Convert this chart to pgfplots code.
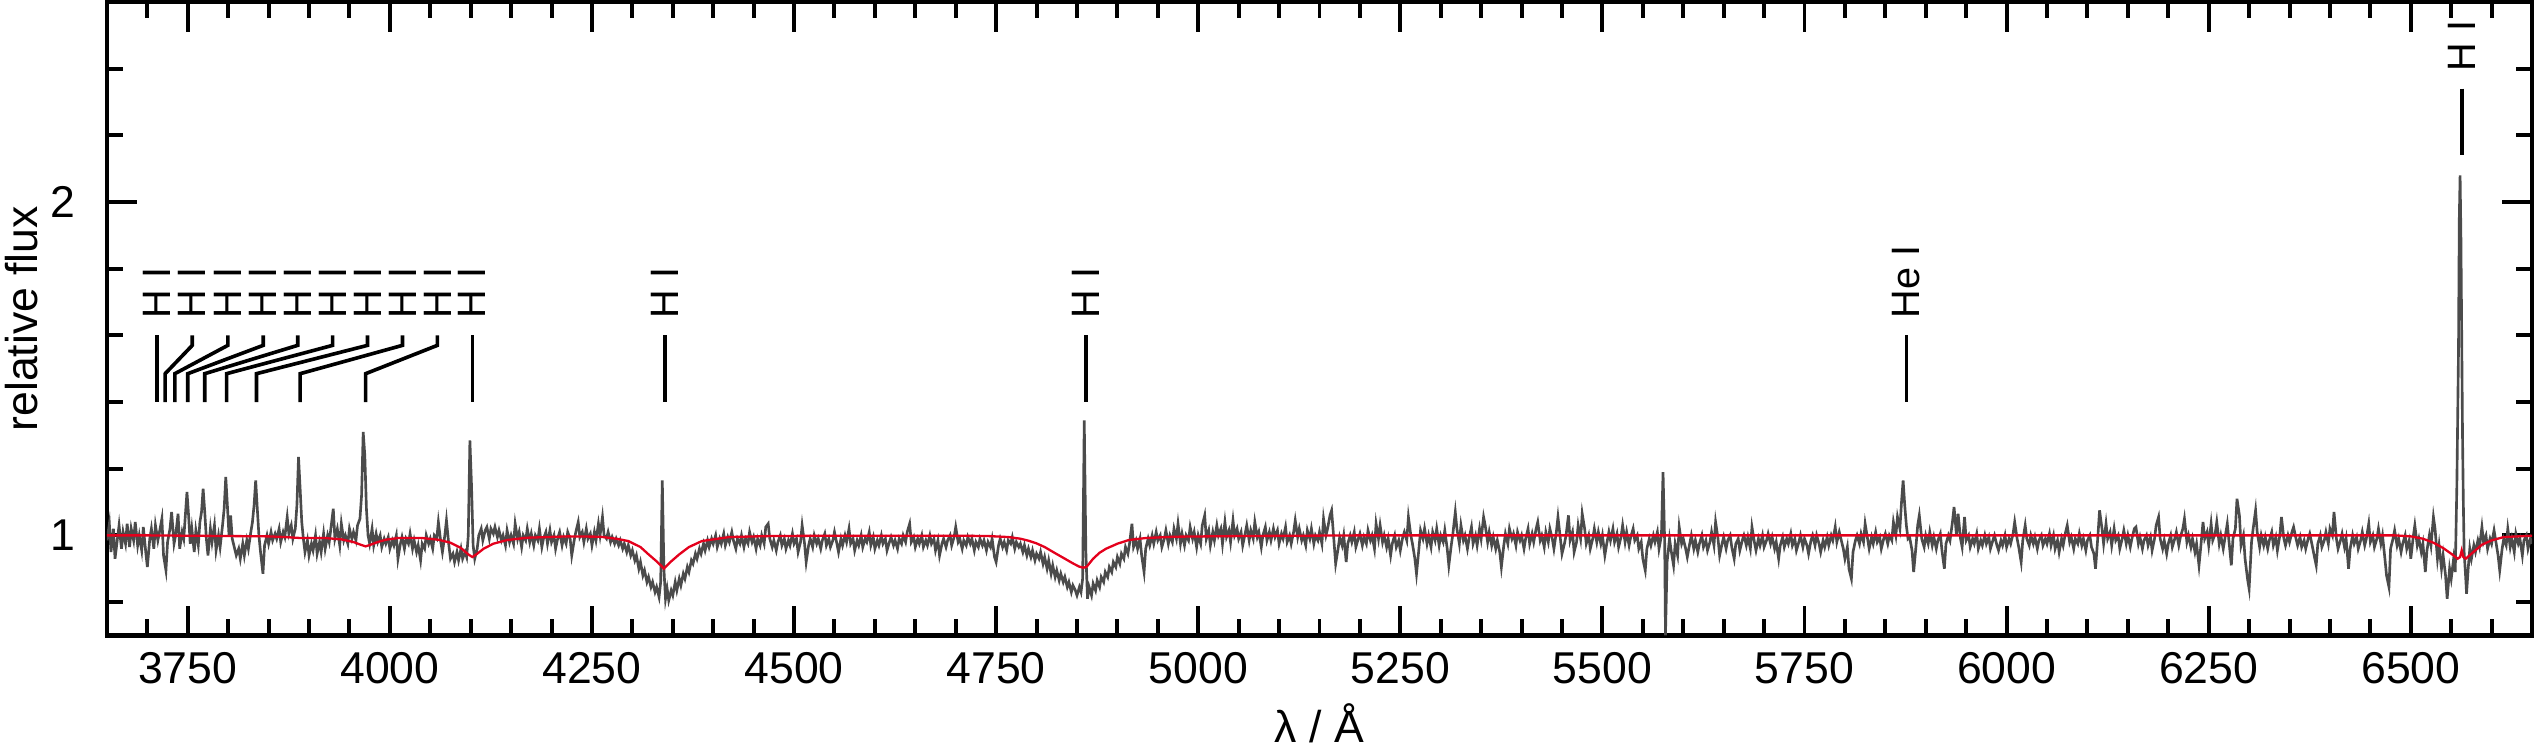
\documentclass[border=0pt]{standalone}
\usepackage{fontspec}
\setmainfont{Liberation Sans}
\usepackage{pgfplots}
\pgfplotsset{compat=1.18}
\definecolor{specgray}{RGB}{75,75,75}
\definecolor{modred}{RGB}{228,0,28}
\newcommand{\lbl}{\fontsize{12}{14}\selectfont}
\begin{document}
\begin{tikzpicture}
\begin{axis}[
  name=ax,
  scale only axis, width=734.7pt, height=191.9pt,
  xmin=3650, xmax=6650, ymin=0.7, ymax=2.6,
  xtick={3750,4000,...,6500}, minor xtick={3700,3750,...,6600},
  ytick={1,2}, minor ytick={0.8,1.2,1.4,1.6,1.8,2.2,2.4},
  tick align=inside,
  major tick length=9pt, minor tick length=5pt,
  tick style={black, line width=1.2pt},
  axis line style={line width=1.4pt},
  /pgf/number format/assume math mode=true,
  /pgf/number format/1000 sep={},
  ticklabel style={font=\fontsize{13.5}{15}\selectfont},
  xticklabel style={yshift=-1.5pt}, yticklabel style={xshift=-6pt},
  xlabel={λ / Å}, ylabel={relative flux},
  label style={font=\fontsize{13.5}{15}\selectfont},
  xlabel style={at={(axis description cs:0.5,-0.139)}, anchor=center},
  ylabel style={at={(axis description cs:-0.0354,0.5)}, anchor=center},
]
% observed spectrum
\addplot[specgray, line width=0.8pt] coordinates {
(3650,0.985)(3653,1.035)(3655,0.95)(3658,1.02)(3660,0.93)(3663,0.99)(3665,1.03)(3668,0.96)(3670,1.01)(3673,0.975)
(3675,1.035)(3678,0.965)(3680,1.02)(3683,0.985)(3685,1.04)(3688,0.97)(3690,1.0)(3693,0.955)(3695,1.025)(3698,0.95)
(3700,0.905)(3703,0.99)(3705,1.02)(3708,0.96)(3710,1.03)(3713,0.985)(3715,1.01)(3718,1.05)(3720,0.94)(3723,0.895)
(3725,0.98)(3728,1.02)(3730,1.07)(3733,0.975)(3735,1.0)(3738,1.065)(3740,0.96)(3743,1.01)(3745,0.99)(3747,1.06)
(3749,1.13)(3751,1.06)(3753,0.975)(3755,1.02)(3758,0.95)(3760,1.015)(3763,0.97)(3765,1.04)(3767,1.07)(3769,1.14)
(3771,1.07)(3773,0.99)(3775,0.94)(3778,1.02)(3780,0.98)(3783,1.03)(3785,0.955)(3788,1.0)(3790,0.965)(3793,1.03)
(3795,1.08)(3797,1.175)(3799,1.09)(3801,1.0)(3803,1.06)(3805,0.99)(3808,0.96)(3810,0.94)(3813,0.96)(3815,0.93)
(3818,0.975)(3820,0.94)(3823,0.985)(3825,0.96)(3828,1.01)(3830,1.04)(3832,1.09)(3834,1.165)(3836,1.08)(3838,1.0)
(3840,0.95)(3843,0.885)(3845,0.97)(3848,1.0)(3850,0.975)(3853,1.01)(3855,0.985)(3858,1.005)(3860,0.99)(3863,1.02)
(3865,0.98)(3868,1.01)(3870,0.995)(3873,1.055)(3875,1.005)(3878,1.03)(3880,0.99)(3883,1.02)(3885,1.09)(3887,1.235)
(3889,1.14)(3891,1.04)(3893,0.99)(3895,0.95)(3898,0.985)(3900,0.94)(3903,0.975)(3905,0.955)(3908,1.0)(3910,0.945)
(3913,0.98)(3915,0.95)(3918,1.005)(3920,0.96)(3923,1.0)(3925,0.98)(3928,1.04)(3930,1.08)(3932,0.99)(3935,1.02)
(3938,0.97)(3940,1.035)(3943,0.985)(3945,1.0)(3948,0.975)(3950,1.02)(3953,0.99)(3955,1.01)(3958,0.985)(3960,1.03)
(3963,1.05)(3965,1.12)(3967,1.31)(3969,1.24)(3971,1.08)(3973,1.0)(3975,0.975)(3978,1.02)(3980,0.97)(3983,1.005)
(3985,0.98)(3988,1.0)(3990,0.965)(3993,0.99)(3995,0.975)(3998,0.995)(4000,0.96)(4003,0.985)(4005,0.97)(4008,1.0)
(4010,0.93)(4013,0.975)(4015,0.995)(4018,0.96)(4020,0.99)(4023,0.975)(4025,1.005)(4028,0.96)(4030,0.985)(4033,0.95)
(4035,0.97)(4038,0.925)(4040,0.975)(4043,0.96)(4045,1.0)(4048,0.975)(4050,0.99)(4053,0.96)(4055,1.0)(4058,0.99)
(4060,1.04)(4063,0.98)(4065,0.95)(4068,1.0)(4070,1.045)(4073,0.97)(4075,0.93)(4078,0.945)(4080,0.92)(4083,0.95)
(4085,0.925)(4088,0.96)(4090,0.93)(4093,0.95)(4095,0.935)(4097,1.0)(4099,1.285)(4101,1.15)(4103,0.97)(4105,0.93)
(4108,0.96)(4110,1.0)(4113,1.02)(4115,0.985)(4118,1.015)(4120,1.025)(4123,0.99)(4125,1.02)(4128,1.005)(4130,1.025)
(4133,0.995)(4135,1.015)(4138,0.985)(4140,1.0)(4143,0.97)(4145,1.015)(4148,0.98)(4150,1.0)(4153,0.975)(4155,1.035)
(4158,0.99)(4160,1.01)(4163,0.965)(4165,1.0)(4168,0.985)(4170,1.02)(4173,0.98)(4175,1.005)(4178,0.97)(4180,1.0)
(4183,0.985)(4185,1.02)(4188,0.965)(4190,0.99)(4193,1.01)(4195,0.975)(4198,1.015)(4200,0.98)(4203,1.0)(4205,0.96)
(4208,0.995)(4210,1.01)(4213,0.97)(4215,0.995)(4218,0.975)(4220,1.01)(4223,0.99)(4225,0.94)(4228,0.985)(4230,1.01)
(4233,1.04)(4235,0.995)(4238,1.01)(4240,0.98)(4243,1.02)(4245,0.99)(4248,1.005)(4250,0.97)(4253,1.01)(4255,0.985)
(4258,1.035)(4260,1.0)(4263,1.055)(4265,1.0)(4268,0.99)(4270,1.01)(4273,0.98)(4275,0.995)(4278,0.975)(4280,0.99)
(4283,0.97)(4285,0.985)(4288,0.96)(4290,0.975)(4293,0.95)(4295,0.97)(4298,0.94)(4300,0.955)(4303,0.925)(4305,0.94)
(4308,0.9)(4310,0.92)(4313,0.88)(4315,0.895)(4318,0.86)(4320,0.875)(4323,0.845)(4325,0.86)(4328,0.83)(4330,0.845)
(4333,0.815)(4335,0.86)(4337,1.165)(4339,0.9)(4341,0.81)(4343,0.84)(4345,0.805)(4348,0.835)(4350,0.82)(4353,0.86)
(4355,0.835)(4358,0.87)(4360,0.85)(4363,0.885)(4365,0.87)(4368,0.905)(4370,0.89)(4373,0.925)(4375,0.915)(4378,0.945)
(4380,0.93)(4383,0.96)(4385,0.945)(4388,0.975)(4390,0.955)(4393,0.985)(4395,0.965)(4398,0.99)(4400,0.975)(4403,1.0)
(4405,0.965)(4408,0.99)(4410,0.975)(4413,1.005)(4415,0.97)(4418,0.995)(4420,0.98)(4423,1.01)(4425,0.985)(4428,0.96)
(4430,0.99)(4433,0.975)(4435,1.0)(4438,0.965)(4440,0.99)(4443,0.975)(4445,1.01)(4448,0.98)(4450,0.995)(4453,0.96)
(4455,0.99)(4458,0.97)(4460,1.0)(4463,0.975)(4465,1.025)(4468,1.035)(4470,0.99)(4473,0.965)(4475,0.985)(4478,0.955)
(4480,0.98)(4483,1.0)(4485,0.97)(4488,0.99)(4490,0.96)(4493,0.985)(4495,0.97)(4498,1.005)(4500,0.975)(4503,0.99)
(4505,0.95)(4508,0.98)(4510,1.03)(4513,0.975)(4515,0.92)(4518,0.97)(4520,0.99)(4523,0.965)(4525,1.0)(4528,0.975)
(4530,0.99)(4533,0.96)(4535,0.985)(4538,1.005)(4540,0.97)(4543,0.99)(4545,0.965)(4548,0.985)(4550,1.01)(4553,0.975)
(4555,0.95)(4558,0.99)(4560,0.97)(4563,1.0)(4565,0.98)(4568,1.02)(4570,0.975)(4573,0.99)(4575,0.955)(4578,0.985)
(4580,0.97)(4583,1.0)(4585,0.965)(4588,0.99)(4590,0.98)(4593,1.01)(4595,0.97)(4598,0.995)(4600,0.96)(4603,0.985)
(4605,0.97)(4608,1.0)(4610,0.975)(4613,0.99)(4615,0.955)(4618,0.98)(4620,0.995)(4623,0.97)(4625,0.985)(4628,0.96)
(4630,0.99)(4633,0.975)(4635,1.0)(4638,0.98)(4640,1.01)(4643,1.035)(4645,0.98)(4648,0.995)(4650,0.965)(4653,0.99)
(4655,0.975)(4658,1.0)(4660,0.965)(4663,0.985)(4665,0.97)(4668,1.0)(4670,0.975)(4673,0.99)(4675,0.955)(4678,0.985)
(4680,0.94)(4683,0.975)(4685,0.99)(4688,0.965)(4690,0.985)(4693,1.0)(4695,0.97)(4698,0.995)(4700,1.025)(4703,0.98)
(4705,0.99)(4708,0.96)(4710,0.985)(4713,0.97)(4715,0.995)(4718,0.975)(4720,0.99)(4723,0.955)(4725,0.98)(4728,0.965)
(4730,0.99)(4733,0.97)(4735,0.985)(4738,0.955)(4740,0.98)(4743,0.965)(4745,0.99)(4748,0.935)(4750,0.92)(4753,0.97)
(4755,0.99)(4758,0.965)(4760,0.98)(4763,0.955)(4765,0.985)(4768,0.975)(4770,0.995)(4773,0.96)(4775,0.98)(4778,0.965)
(4780,0.975)(4783,0.95)(4785,0.97)(4788,0.94)(4790,0.96)(4793,0.935)(4795,0.955)(4798,0.925)(4800,0.945)(4803,0.93)
(4805,0.95)(4808,0.915)(4810,0.935)(4813,0.9)(4815,0.925)(4818,0.885)(4820,0.91)(4823,0.875)(4825,0.895)(4828,0.865)
(4830,0.885)(4833,0.86)(4835,0.875)(4838,0.845)(4840,0.86)(4843,0.83)(4845,0.85)(4848,0.835)(4850,0.82)(4853,0.845)
(4855,0.83)(4857,0.87)(4859,1.345)(4861,0.95)(4863,0.81)(4865,0.845)(4868,0.82)(4870,0.855)(4873,0.835)(4875,0.865)
(4878,0.845)(4880,0.875)(4883,0.86)(4885,0.89)(4888,0.875)(4890,0.905)(4893,0.89)(4895,0.92)(4898,0.905)(4900,0.935)
(4903,0.915)(4905,0.945)(4908,0.93)(4910,0.965)(4913,0.945)(4915,0.975)(4918,1.035)(4920,0.965)(4923,0.985)(4925,0.96)
(4928,0.99)(4930,0.94)(4933,0.89)(4935,0.96)(4938,0.99)(4940,0.97)(4943,1.0)(4945,0.975)(4948,1.01)(4950,0.985)
(4953,1.0)(4955,0.965)(4958,0.99)(4960,1.015)(4963,0.975)(4965,1.0)(4968,0.98)(4970,1.02)(4973,0.99)(4975,1.035)
(4978,0.975)(4980,1.005)(4983,0.97)(4985,1.0)(4988,0.985)(4990,1.025)(4993,0.99)(4995,1.01)(4998,0.965)(5000,1.0)
(5003,0.975)(5005,1.03)(5008,1.06)(5010,0.99)(5013,1.015)(5015,0.97)(5018,1.01)(5020,0.985)(5023,1.03)(5025,1.0)
(5028,1.02)(5030,0.975)(5033,1.04)(5035,0.995)(5038,1.015)(5040,0.98)(5043,1.045)(5045,1.0)(5048,1.02)(5050,0.99)
(5053,1.01)(5055,0.97)(5058,1.005)(5060,1.03)(5063,0.985)(5065,1.015)(5068,0.99)(5070,1.04)(5073,0.995)(5075,1.01)
(5078,0.965)(5080,1.0)(5083,1.025)(5085,0.985)(5088,1.01)(5090,0.985)(5093,1.02)(5095,0.995)(5098,1.015)(5100,0.975)
(5103,1.005)(5105,0.99)(5108,1.025)(5110,0.98)(5113,1.0)(5115,0.975)(5118,1.01)(5120,1.045)(5123,0.995)(5125,1.02)
(5128,0.985)(5130,1.0)(5133,0.97)(5135,1.015)(5138,0.99)(5140,1.02)(5143,0.975)(5145,1.0)(5148,0.985)(5150,1.01)
(5153,0.975)(5155,1.05)(5158,1.0)(5160,1.02)(5163,1.06)(5165,1.075)(5168,0.98)(5170,0.915)(5173,0.96)(5175,0.995)
(5178,0.97)(5180,1.0)(5183,0.92)(5185,0.975)(5188,1.0)(5190,0.98)(5193,1.01)(5195,0.965)(5198,0.99)(5200,1.005)
(5203,0.97)(5205,0.995)(5208,0.975)(5210,1.015)(5213,0.985)(5215,1.0)(5218,0.96)(5220,1.035)(5223,0.99)(5225,1.03)
(5228,0.98)(5230,1.0)(5233,0.965)(5235,0.99)(5238,0.94)(5240,0.975)(5243,1.0)(5245,0.965)(5248,0.985)(5250,0.955)
(5253,0.995)(5255,1.01)(5258,0.985)(5260,1.055)(5263,1.0)(5265,0.975)(5268,0.93)(5270,0.885)(5273,0.96)(5275,1.015)
(5278,0.99)(5280,1.02)(5283,0.975)(5285,1.0)(5288,0.965)(5290,1.01)(5293,0.985)(5295,1.02)(5298,0.97)(5300,1.0)
(5303,0.98)(5305,1.015)(5308,0.96)(5310,0.91)(5313,0.97)(5315,1.005)(5318,1.07)(5320,1.02)(5323,0.975)(5325,1.03)
(5328,0.985)(5330,1.0)(5333,0.96)(5335,0.99)(5338,1.025)(5340,0.975)(5343,1.0)(5345,0.97)(5348,1.02)(5350,0.99)
(5353,1.055)(5355,1.03)(5358,0.98)(5360,1.01)(5363,0.97)(5365,0.995)(5368,0.96)(5370,0.985)(5373,0.95)(5375,0.905)
(5378,0.97)(5380,1.005)(5383,0.975)(5385,1.02)(5388,0.99)(5390,1.005)(5393,0.97)(5395,1.01)(5398,0.985)(5400,1.0)
(5403,0.96)(5405,0.99)(5408,1.02)(5410,0.975)(5413,1.005)(5415,0.98)(5418,1.02)(5420,1.04)(5423,0.985)(5425,1.0)
(5428,0.965)(5430,1.01)(5433,0.98)(5435,1.02)(5438,0.99)(5440,0.96)(5443,1.01)(5445,1.055)(5448,0.99)(5450,0.945)
(5453,0.975)(5455,1.0)(5458,1.06)(5460,0.985)(5463,1.01)(5465,0.95)(5468,0.98)(5470,1.03)(5473,0.99)(5475,1.065)
(5478,1.02)(5480,0.975)(5483,1.0)(5485,0.96)(5488,0.99)(5490,1.02)(5493,0.98)(5495,1.01)(5498,0.975)(5500,1.0)
(5503,0.94)(5505,0.97)(5508,1.01)(5510,0.985)(5513,1.02)(5515,0.98)(5518,1.005)(5520,0.965)(5523,0.995)(5525,1.03)
(5528,0.98)(5530,1.01)(5533,0.97)(5535,0.995)(5538,1.02)(5540,0.985)(5543,1.0)(5545,0.96)(5548,0.98)(5550,0.93)
(5553,0.895)(5555,0.96)(5558,0.99)(5560,0.97)(5563,1.0)(5565,0.98)(5568,1.01)(5570,0.96)(5573,1.0)(5575,1.19)
(5577,0.98)(5578,0.70)(5580,0.92)(5583,0.99)(5585,0.955)(5588,0.91)(5590,0.975)(5593,0.94)(5595,1.025)(5598,0.975)
(5600,0.99)(5603,0.96)(5605,0.935)(5608,0.975)(5610,1.0)(5613,0.96)(5615,0.985)(5618,0.95)(5620,0.975)(5623,1.0)
(5625,0.965)(5628,0.985)(5630,0.955)(5633,0.98)(5635,1.01)(5638,0.97)(5640,1.04)(5643,0.99)(5645,0.94)(5648,0.975)
(5650,0.995)(5653,0.96)(5655,0.985)(5658,1.0)(5660,0.965)(5663,0.93)(5665,0.975)(5668,0.99)(5670,0.955)(5673,0.985)
(5675,1.0)(5678,0.97)(5680,0.995)(5683,0.96)(5685,1.025)(5688,0.98)(5690,0.955)(5693,0.99)(5695,0.97)(5698,1.0)
(5700,0.965)(5703,0.985)(5705,1.005)(5708,0.975)(5710,0.995)(5713,0.96)(5715,0.98)(5718,0.93)(5720,0.97)(5723,0.995)
(5725,0.965)(5728,0.99)(5730,0.975)(5733,1.005)(5735,0.97)(5738,0.99)(5740,0.955)(5743,0.98)(5745,1.0)(5748,0.965)
(5750,0.99)(5753,0.97)(5755,0.945)(5758,0.985)(5760,1.0)(5763,0.97)(5765,1.0)(5768,0.975)(5770,0.95)(5773,0.985)
(5775,0.965)(5778,0.995)(5780,0.97)(5783,1.0)(5785,0.985)(5788,1.025)(5790,0.98)(5793,1.01)(5795,0.99)(5798,0.96)
(5800,0.93)(5803,0.965)(5805,0.9)(5808,0.87)(5810,0.95)(5813,0.985)(5815,1.0)(5818,0.975)(5820,1.005)(5823,0.98)
(5825,1.035)(5828,0.99)(5830,0.96)(5833,0.995)(5835,0.975)(5838,1.01)(5840,0.98)(5843,0.995)(5845,0.96)(5848,0.99)
(5850,1.005)(5853,0.975)(5855,1.0)(5858,0.985)(5860,1.04)(5863,1.0)(5865,1.055)(5868,1.02)(5870,1.1)(5872,1.165)
(5874,1.09)(5876,1.03)(5878,0.99)(5880,0.995)(5883,0.955)(5885,0.89)(5888,0.97)(5890,1.03)(5892,1.06)(5895,0.99)
(5898,0.965)(5900,1.0)(5903,0.975)(5905,1.01)(5908,0.97)(5910,0.995)(5913,0.96)(5915,0.985)(5918,1.005)(5920,0.955)
(5923,0.9)(5925,0.975)(5928,1.0)(5930,0.985)(5933,1.04)(5935,1.085)(5938,1.0)(5940,1.065)(5943,0.99)(5945,0.965)
(5948,1.055)(5950,0.985)(5953,1.0)(5955,0.965)(5958,0.99)(5960,0.975)(5963,1.005)(5965,0.96)(5968,0.985)(5970,0.97)
(5973,1.0)(5975,0.975)(5978,0.995)(5980,0.96)(5983,0.985)(5985,1.0)(5988,0.97)(5990,0.955)(5993,0.985)(5995,0.97)
(5998,1.0)(6000,0.965)(6003,0.99)(6005,0.975)(6008,1.005)(6010,1.04)(6013,0.99)(6015,0.965)(6018,0.92)(6020,0.985)
(6023,1.03)(6025,0.99)(6028,0.97)(6030,1.0)(6033,0.975)(6035,0.995)(6038,0.96)(6040,0.985)(6043,1.0)(6045,0.97)
(6048,0.99)(6050,0.975)(6053,1.005)(6055,0.97)(6058,1.0)(6060,0.96)(6063,0.985)(6065,0.95)(6068,0.99)(6070,0.97)
(6073,1.01)(6075,1.03)(6078,0.98)(6080,0.995)(6083,0.96)(6085,0.99)(6088,0.975)(6090,1.005)(6093,0.97)(6095,0.99)
(6098,0.955)(6100,0.985)(6103,1.0)(6105,0.965)(6108,0.945)(6110,0.9)(6113,1.0)(6115,1.075)(6118,1.02)(6120,0.975)
(6123,1.035)(6125,0.99)(6128,1.01)(6130,0.97)(6133,1.02)(6135,0.985)(6138,1.0)(6140,0.96)(6143,0.99)(6145,1.015)
(6148,0.975)(6150,1.0)(6153,0.965)(6155,0.99)(6158,1.02)(6160,1.025)(6163,0.975)(6165,0.995)(6168,0.96)(6170,0.985)
(6173,1.0)(6175,0.97)(6178,0.995)(6180,0.955)(6183,0.99)(6185,1.03)(6188,1.055)(6190,0.99)(6193,0.96)(6195,0.985)
(6198,0.945)(6200,0.975)(6203,1.0)(6205,0.965)(6208,0.99)(6210,1.01)(6213,0.97)(6215,0.995)(6218,1.02)(6220,1.05)
(6223,0.98)(6225,1.0)(6228,0.965)(6230,0.99)(6233,0.95)(6235,0.975)(6238,0.91)(6240,0.96)(6243,1.04)(6245,0.99)
(6248,1.01)(6250,0.97)(6253,1.035)(6255,0.985)(6258,1.005)(6260,1.04)(6263,0.975)(6265,1.0)(6268,0.96)(6270,0.99)
(6273,1.035)(6275,0.985)(6278,0.91)(6280,0.99)(6283,1.02)(6285,1.11)(6288,1.06)(6290,0.97)(6293,1.0)(6295,0.93)
(6298,0.87)(6300,0.84)(6303,0.98)(6305,1.02)(6308,1.075)(6310,1.01)(6313,0.965)(6315,1.0)(6318,0.97)(6320,0.995)
(6323,0.96)(6325,0.985)(6328,1.01)(6330,0.97)(6333,0.995)(6335,0.955)(6338,1.0)(6340,1.055)(6343,0.99)(6345,0.97)
(6348,1.0)(6350,0.98)(6353,1.01)(6355,1.025)(6358,0.99)(6360,0.97)(6363,0.995)(6365,0.965)(6368,0.985)(6370,0.96)
(6373,0.99)(6375,1.005)(6378,0.97)(6380,0.945)(6383,0.91)(6385,0.975)(6388,1.0)(6390,0.965)(6393,0.985)(6395,1.01)
(6398,0.975)(6400,1.02)(6403,1.0)(6405,1.07)(6408,0.99)(6410,0.96)(6413,0.985)(6415,1.005)(6418,0.965)(6420,0.99)
(6423,0.9)(6425,0.96)(6428,1.0)(6430,0.975)(6433,0.995)(6435,0.96)(6438,0.985)(6440,1.01)(6443,0.97)(6445,0.99)
(6448,1.035)(6450,0.98)(6453,1.0)(6455,0.965)(6458,0.99)(6460,1.02)(6463,0.975)(6465,1.0)(6468,0.93)(6470,0.88)
(6473,0.845)(6475,0.96)(6478,0.99)(6480,1.015)(6483,0.97)(6485,0.99)(6488,0.95)(6490,0.975)(6493,1.0)(6495,0.96)
(6498,0.985)(6500,0.93)(6503,0.995)(6505,1.03)(6508,0.97)(6510,0.99)(6513,0.95)(6515,0.975)(6518,0.89)(6520,0.955)
(6523,1.0)(6525,0.97)(6528,1.055)(6530,1.02)(6533,0.93)(6535,0.97)(6538,0.9)(6540,0.94)(6543,0.88)(6545,0.81)
(6548,0.9)(6550,0.87)(6553,0.93)(6555,0.89)(6557,1.15)(6559,1.55)(6560,1.95)(6561,2.08)(6562,1.9)(6563,1.6)
(6564,1.3)(6565,1.1)(6566,0.95)(6568,0.87)(6569,0.825)(6571,0.9)(6573,0.96)(6575,0.93)(6578,0.97)(6580,0.95)
(6583,0.985)(6585,0.965)(6588,1.025)(6590,0.98)(6593,1.0)(6595,0.96)(6598,0.99)(6600,0.975)(6603,1.015)(6605,0.985)
(6608,0.94)(6610,0.895)(6613,0.96)(6615,0.99)(6618,0.97)(6620,1.02)(6623,0.965)(6625,0.99)(6628,0.95)(6630,1.005)
(6633,0.975)(6635,0.99)(6638,0.94)(6640,0.985)(6643,1.0)(6645,0.96)(6648,0.99)(6650,0.975)
};
% model spectrum
\addplot[modred, line width=0.7pt] coordinates {
(3650,1.0)(3700,1.0)(3750,0.999)(3800,0.998)(3850,0.997)(3870,0.995)(3890,0.992)(3920,0.992)(3940,0.988)(3955,0.98)
(3965,0.971)(3970,0.967)(3975,0.971)(3985,0.98)(3995,0.987)(4010,0.992)(4040,0.992)(4060,0.987)(4075,0.978)(4088,0.962)
(4097,0.943)(4102,0.935)(4107,0.943)(4116,0.96)(4128,0.975)(4145,0.986)(4170,0.993)(4220,0.997)(4260,0.996)(4280,0.99)
(4295,0.983)(4310,0.965)(4320,0.943)(4330,0.922)(4336,0.908)(4339,0.90)(4342,0.908)(4348,0.922)(4358,0.943)(4370,0.965)
(4386,0.983)(4420,0.995)(4470,0.998)(4550,0.999)(4700,0.999)(4740,0.998)(4765,0.995)(4780,0.99)(4790,0.984)(4800,0.976)
(4810,0.965)(4822,0.948)(4835,0.93)(4845,0.916)(4853,0.906)(4858,0.903)(4862,0.906)(4870,0.93)(4878,0.948)(4886,0.96)
(4900,0.975)(4914,0.986)(4935,0.992)(4970,0.996)(5050,0.998)(5200,1.0)(6480,1.0)(6500,0.997)(6515,0.99)(6528,0.978)
(6540,0.962)(6550,0.945)(6558,0.93)(6561,0.935)(6563,0.955)(6565,0.935)(6568,0.93)(6575,0.945)(6588,0.972)(6600,0.985)
(6615,0.995)(6650,0.999)
};
% line identifications
\addplot[black, line width=1.1pt] coordinates {(3712,1.6)(3712,1.4)};
\addplot[black, line width=1.1pt] coordinates {(3755.6,1.6)(3755.6,1.57)(3722,1.485)(3722,1.4)};
\addplot[black, line width=1.1pt] coordinates {(3799.6,1.6)(3799.6,1.57)(3734,1.485)(3734,1.4)};
\addplot[black, line width=1.1pt] coordinates {(3843.4,1.6)(3843.4,1.57)(3750,1.485)(3750,1.4)};
\addplot[black, line width=1.1pt] coordinates {(3886,1.6)(3886,1.57)(3771,1.485)(3771,1.4)};
\addplot[black, line width=1.1pt] coordinates {(3929.2,1.6)(3929.2,1.57)(3798,1.485)(3798,1.4)};
\addplot[black, line width=1.1pt] coordinates {(3972.4,1.6)(3972.4,1.57)(3835,1.485)(3835,1.4)};
\addplot[black, line width=1.1pt] coordinates {(4015.6,1.6)(4015.6,1.57)(3889,1.485)(3889,1.4)};
\addplot[black, line width=1.1pt] coordinates {(4058.8,1.6)(4058.8,1.57)(3970,1.485)(3970,1.4)};
\addplot[black, line width=1.1pt] coordinates {(4102,1.6)(4102,1.4)};
\addplot[black, line width=1.1pt] coordinates {(4340,1.6)(4340,1.4)};
\addplot[black, line width=1.1pt] coordinates {(4861,1.6)(4861,1.4)};
\addplot[black, line width=1.1pt] coordinates {(5876,1.6)(5876,1.4)};
\addplot[black, line width=1.1pt] coordinates {(6563,2.34)(6563,2.14)};
\pgfplotsinvokeforeach{3712,3755.6,3799.6,3843.4,3886,3929.2,3972.4,4015.6,4058.8,4102,4340,4861}{
  \node[rotate=90, anchor=west, inner sep=0pt, font=\lbl] at (axis cs:#1,1.65) {H I};
}
\node[rotate=90, anchor=west, inner sep=0pt, font=\lbl] at (axis cs:5876,1.65) {He I};
\node[rotate=90, anchor=west, inner sep=0pt, font=\lbl] at (axis cs:6563,2.39) {H I};
\end{axis}
\pgfresetboundingbox
\path[use as bounding box] ([xshift=-32.4pt,yshift=-34.2pt]ax.south west) rectangle ([xshift=0.9pt,yshift=0.6pt]ax.north east);
\end{tikzpicture}
\end{document}
